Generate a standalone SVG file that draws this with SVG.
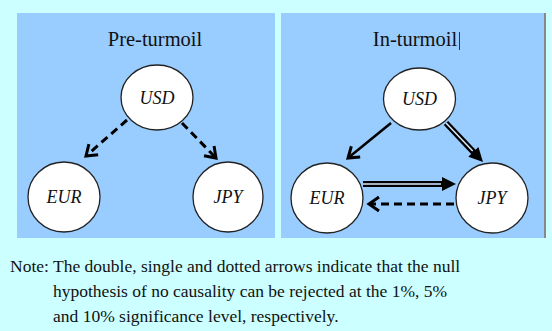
<svg xmlns="http://www.w3.org/2000/svg" width="552" height="331" viewBox="0 0 552 331">
<style>
.panel{fill:#99CCFF}
.node ellipse{fill:#FFFFFF;stroke:#222;stroke-width:1.3}
.node text{font-family:'Liberation Serif','Times New Roman',Times,serif;font-style:italic;font-size:18px;fill:#111;text-anchor:middle}
.title{font-family:'Liberation Serif','Times New Roman',Times,serif;font-size:20.5px;fill:#111;text-anchor:middle}
.note{font-family:'Liberation Serif','Times New Roman',Times,serif;font-size:17.5px;fill:#111}
.dash{fill:none;stroke:#000;stroke-width:3;stroke-dasharray:8 5}
.single{fill:none;stroke:#000;stroke-width:2.5}
.dblo{fill:none;stroke:#000;stroke-width:6}
.dbli{fill:none;stroke:#DDEEFF;stroke-width:1.5}
.head{fill:#000}
</style>
<defs>
<marker id="chev" markerUnits="userSpaceOnUse" markerWidth="20" markerHeight="20" viewBox="-14 -10 16 20" refX="0" refY="0" orient="auto" overflow="visible">
<path d="M-10,-7 L0,0 L-10,7" fill="none" stroke="#000" stroke-width="3"/>
</marker>
</defs>
<rect x="0" y="0" width="552" height="331" fill="#CCFFFF"/>
<rect class="panel" x="17" y="13" width="258" height="225"/>
<rect class="panel" x="281" y="13" width="263" height="225"/>
<line x1="545" y1="13" x2="545" y2="238" stroke="#888" stroke-width="2"/>
<text class="title" x="155" y="46">Pre-turmoil</text>
<text class="title" x="415" y="46">In-turmoil</text>
<line x1="459.5" y1="32" x2="459.5" y2="50" stroke="#333" stroke-width="1"/>
<g id="connectors">
<path class="dash" d="M127,120 L86,156" marker-end="url(#chev)"/>
<path class="dash" d="M182,123 L216,158" marker-end="url(#chev)"/>
<path class="single" d="M391,123 L348,158" marker-end="url(#chev)"/>
<g>
<path class="dblo" d="M446,123 L474.06,152.57"/>
<path class="dbli" d="M446,123 L472.7,151.1"/>
<polygon class="head" points="483,162 468.3,156.7 478.4,147.0"/>
</g>
<g>
<path class="dblo" d="M363,184 L443,184"/>
<path class="dbli" d="M363,184 L441,184"/>
<polygon class="head" points="456,184 442,177 442,191"/>
</g>
<path class="dash" d="M454,204 L369,204" marker-end="url(#chev)"/>
</g>
<g id="pre-usd" class="node"><ellipse cx="157" cy="97.5" rx="36" ry="32.5"/><text x="157" y="103.5">USD</text></g>
<g id="pre-eur" class="node"><ellipse cx="64" cy="197" rx="36" ry="35"/><text x="64" y="203">EUR</text></g>
<g id="pre-jpy" class="node"><ellipse cx="228" cy="197" rx="35" ry="35"/><text x="228" y="203">JPY</text></g>
<g id="in-usd" class="node"><ellipse cx="419.5" cy="99" rx="36" ry="31"/><text x="419.5" y="105">USD</text></g>
<g id="in-eur" class="node"><ellipse cx="327" cy="198" rx="36" ry="35"/><text x="327" y="204">EUR</text></g>
<g id="in-jpy" class="node"><ellipse cx="492" cy="198" rx="36" ry="35"/><text x="492" y="204">JPY</text></g>
<text class="note" x="10" y="272">Note: The double, single and dotted arrows indicate that the null</text>
<text class="note" x="53" y="297">hypothesis of no causality can be rejected at the 1%, 5%</text>
<text class="note" x="53" y="322">and 10% significance level, respectively.</text>
</svg>
